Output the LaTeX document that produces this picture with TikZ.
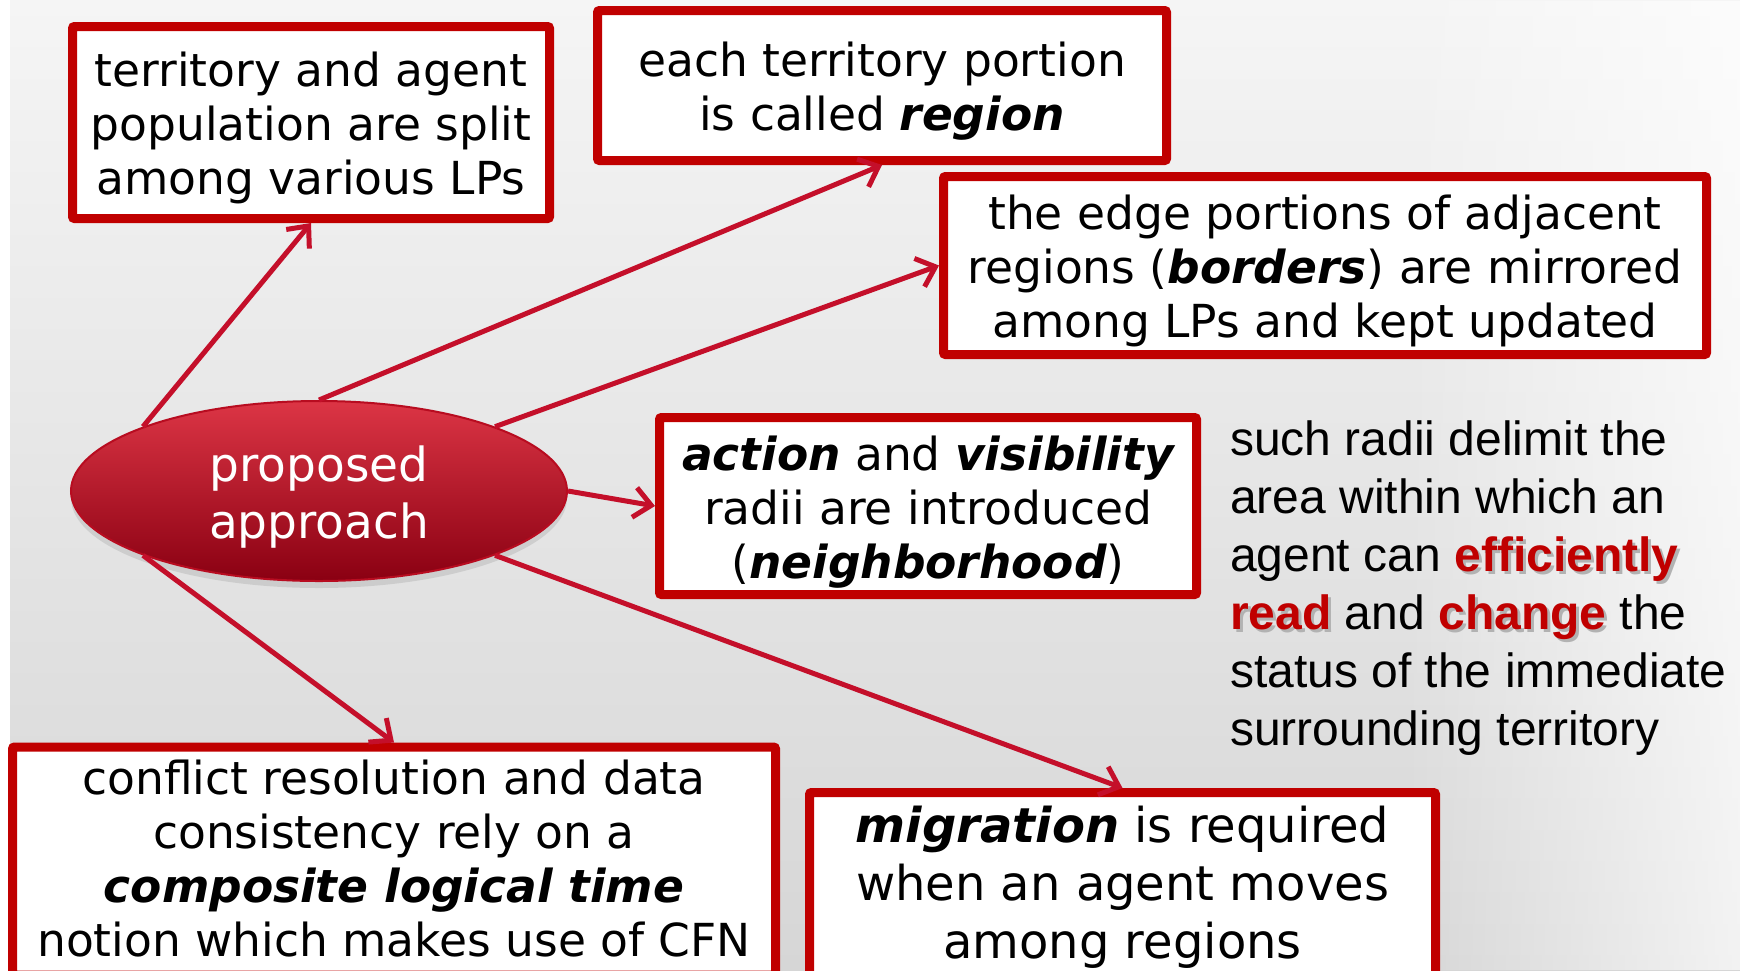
\documentclass[tikz,border=0pt]{standalone}
\usepackage{fontspec}
\setmainfont{DejaVu Sans}
\newfontfamily\arialf{Liberation Sans}
\usetikzlibrary{arrows.meta,shadows,fadings,shapes.geometric}
\definecolor{boxred}{HTML}{C00000}
\definecolor{arrred}{HTML}{C40F2A}
\definecolor{elltop}{HTML}{DC3545}
\definecolor{ellmid}{HTML}{B80C20}
\definecolor{ellbot}{HTML}{8A0012}
\definecolor{bglight}{HTML}{F5F5F5}
\definecolor{bgdark}{HTML}{D6D6D6}
\newcommand\bi[1]{{\bfseries\itshape #1}}
\newcommand\tst{\rule{0pt}{48pt}}
\newcommand\bst{\rule[-12pt]{0pt}{12pt}}
\newcommand\hlw[1]{\makebox[0pt][l]{\hspace{3pt}\raisebox{-3pt}{\textcolor{black!30}{\bfseries #1}}}\textcolor{boxred}{\bfseries #1}}
\begin{document}
\begin{tikzpicture}[x=1pt,y=-1pt,
  box/.style={draw=boxred, line width=9pt, fill=white, rounded corners=2pt,
    inner sep=0pt, align=center, font=\fontsize{45.5}{54}\selectfont},
  conn/.style={draw=arrred, line width=5pt, -{Straight Barb[length=17pt,width=30pt]}},
]
\useasboundingbox (0,0) rectangle (1740,970);
\clip (0,0) rectangle (1740,970);
% background
\fill[white] (0,0) rectangle (1740,970);
\shade[shading angle=30, top color=bglight, bottom color=bgdark] (10,0) rectangle (1740,970);
\fill[white, opacity=0.7, path fading=west] (1400,0) rectangle (1740,970);

% central ellipse
\node[ellipse, minimum width=496pt, minimum height=180pt, draw=ellmid, line width=2pt,
  top color=elltop, middle color=ellmid, bottom color=ellbot,
  drop shadow={shadow xshift=0pt, shadow yshift=-7pt, opacity=0.22},
  text=white, align=center, inner sep=0pt, font=\fontsize{47}{57}\selectfont]
  (e) at (319,491) {\rule{0pt}{49pt}proposed\\approach\bst};

% boxes
\node[box, minimum width=477pt, minimum height=192pt] (b1) at (311,122.5)
  {\tst territory and agent\\population are split\\among various LPs\bst};
\node[box, minimum width=569pt, minimum height=150pt] (b2) at (882,85.5)
  {\tst each territory portion\\is called \bi{region}\bst};
\node[box, minimum width=763pt, minimum height=178pt] (b3) at (1325,265.5)
  {\tst the edge portions of adjacent\\regions (\bi{borders}) are mirrored\\among LPs and kept updated\bst};
\node[box, minimum width=537pt, minimum height=177pt] (b4) at (928,506)
  {\tst\bi{action} and \bi{visibility}\\radii are introduced\\(\bi{neighborhood})\bst};
\node[box, minimum width=763pt, minimum height=228pt] (b5) at (394,861)
  {\rule{0pt}{41.5pt}conflict resolution and data\\consistency rely on a\\\bi{composite logical time}\\notion which makes use of CFN\bst};
\node[box, minimum width=626pt, minimum height=183pt, font=\fontsize{48}{58}\selectfont] (b6) at (1122.5,884)
  {\rule{0pt}{45pt}\bi{migration} is required\\when an agent moves\\among regions\bst};

% side text
\node[anchor=north west, inner sep=0pt, align=left, font=\arialf\fontsize{48}{58}\selectfont] (side) at (1230,420.5)
  {such radii delimit the\\area within which an\\agent can \hlw{efficiently}\\\hlw{read} and \hlw{change} the\\status of the immediate\\surrounding territory};

% connectors
\draw[conn] (e.north west) -- (b1.south);
\draw[conn] (e.north) -- (b2.south);
\draw[conn] (e.north east) -- (b3.west);
\draw[conn] (e.east) -- (b4.west);
\draw[conn] (e.south east) -- (b6.north);
\draw[conn] (e.south west) -- (b5.north);
\end{tikzpicture}
\end{document}
